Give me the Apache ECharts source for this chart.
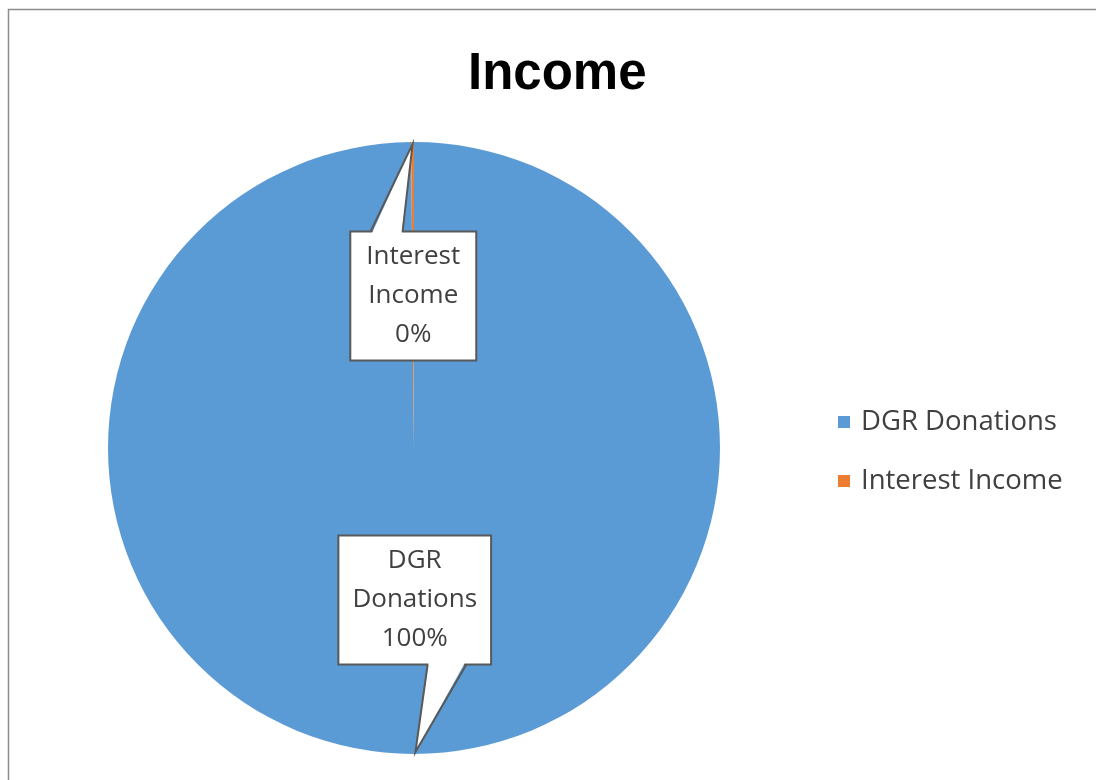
<!DOCTYPE html>
<html><head><meta charset="utf-8">
<script src="https://cdn.jsdelivr.net/npm/echarts@6/dist/echarts.min.js"></script>
<style>html,body{margin:0;padding:0;background:#fff}#c{width:1096px;height:780px}#dbg{position:absolute;left:20px;top:700px;font:12px sans-serif;color:red}</style>
</head><body><div id="c"></div><div id="dbg"></div>
<script>
const titleText = 'Income';
const categories = ['DGR Donations', 'Interest Income'];
const values = [99.85, 0.15];

const colors = ['#5B9BD5', '#ED7D31'];
const labelPads = [[9, 13, 1, 13], [9, 15, 1, 15]];
const labelOffsets = [[0, -4], [0, 4]];
const textColor = '#404040';
const calloutColor = '#595959';

const chart = echarts.init(document.getElementById('c'), null, {renderer: 'canvas'});
chart.setOption({
  animation: false,
  backgroundColor: '#ffffff',
  title: {
    text: titleText, left: 463, top: 44,
    textStyle: {fontFamily: 'Liberation Sans', fontWeight: 'bold', fontSize: 51, lineHeight: 51, color: '#000'}
  },
  legend: {
    orient: 'vertical', left: 833, top: 403, itemGap: 31,
    icon: 'rect', itemWidth: 12, itemHeight: 12,
    data: categories,
    textStyle: {fontFamily: 'Open Sans', fontSize: 27.5, lineHeight: 26, color: textColor, padding: [0, 0, 0, 6]}
  },
  graphic: [{
    id: 'frame', type: 'rect', z: 200, silent: true,
    shape: {x: 8.5, y: 9.5, width: 1300, height: 1000},
    style: {fill: 'none', stroke: '#8c8c8c', lineWidth: 1.5}
  }],
  series: [{
    type: 'pie',
    center: [414, 448],
    radius: 306,
    startAngle: 90,
    clockwise: true,
    percentPrecision: 0,
    avoidLabelOverlap: false,
    emphasis: {disabled: true},
    itemStyle: {borderWidth: 0},
    label: {
      show: true, position: 'inside',
      formatter: p => p.name.replace(' ', '\n') + '\n' + p.percent + '%',
      fontFamily: 'Open Sans', fontSize: 26, lineHeight: 39, color: textColor,
      backgroundColor: '#ffffff', borderColor: calloutColor, borderWidth: 2
    },
    labelLine: {show: false},
    data: categories.map((c, i) => ({
      name: c, value: values[i],
      itemStyle: {color: colors[i]},
      label: {padding: labelPads[i], offset: labelOffsets[i]}
    }))
  }]
});

function addWedges() {
  const data = chart.getModel().getSeriesByIndex(0).getData();
  const els = [];
  data.each(i => {
    const lay = data.getItemLayout(i);
    const mid = (lay.startAngle + lay.endAngle) / 2;
    const tr = lay.r - 2;
    const tx = lay.cx + tr * Math.cos(mid);
    const ty = lay.cy + tr * Math.sin(mid);
    const el = data.getItemGraphicEl(i);
    const label = el && el.getTextContent && el.getTextContent();
    if (!label) return;
    const br = label.getBoundingRect().clone();
    const m = label.getComputedTransform();
    if (m) br.applyTransform(m);
    const cxBox = br.x + br.width / 2;
    const cyBox = br.y + br.height / 2;
    const right = tx > cxBox;
    const bx1 = br.x + br.width * (right ? 7 : 2) / 12;
    const bx2 = br.x + br.width * (right ? 10 : 5) / 12;
    const above = ty < cyBox;
    const edge = above ? br.y + 1 : br.y + br.height - 1;
    const dir = above ? 1 : -1;
    els.push({
      id: 'wf' + i, type: 'polygon', z: 100, silent: true,
      shape: {points: [[bx1 + 1, edge + 2.5 * dir], [tx, ty], [bx2 - 1, edge + 2.5 * dir]]},
      style: {fill: '#ffffff', stroke: 'none'}
    });
    els.push({
      id: 'ws' + i, type: 'polyline', z: 101, silent: true,
      shape: {points: [[bx1, edge], [tx, ty], [bx2, edge]]},
      style: {fill: 'none', stroke: calloutColor, lineWidth: 2, lineJoin: 'miter', miterLimit: 20}
    });
  });
  chart.setOption({graphic: els});
}
try { addWedges(); } catch (e) { document.getElementById('dbg').textContent = 'ERR ' + e.message; }
</script>
</body></html>
